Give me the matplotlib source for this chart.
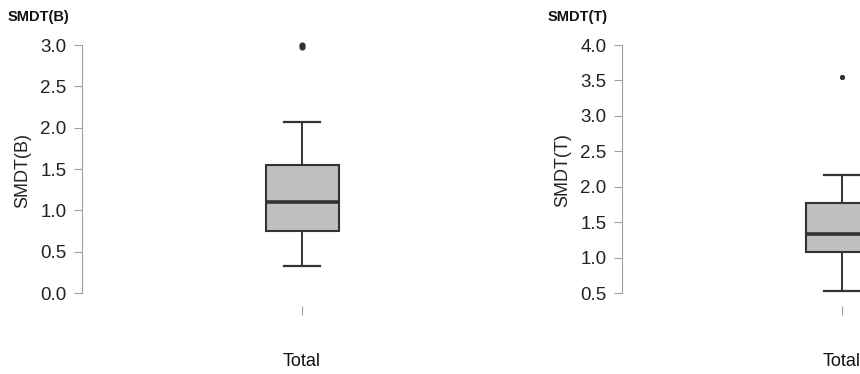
import matplotlib
matplotlib.use("Agg")
import matplotlib.pyplot as plt

plt.rcParams['font.family'] = ['Liberation Sans', 'DejaVu Sans']

# data
panels = ['SMDT(B)', 'SMDT(T)']
group = ['Total']
whislo = [0.33, 0.53]
q1 = [0.75, 1.08]
med = [1.10, 1.33]
q3 = [1.55, 1.77]
whishi = [2.07, 2.17]
outliers = [[2.98, 3.0], [3.55]]
yticks = [[0.0, 0.5, 1.0, 1.5, 2.0, 2.5, 3.0],
          [0.5, 1.0, 1.5, 2.0, 2.5, 3.0, 3.5, 4.0]]

W, H = 860, 374
fig = plt.figure(figsize=(W / 100, H / 100), dpi=100)

# pixel layout (from top-left)
ax_left = [82, 622]
ax_w = 440
ax_top, ax_bot = 35, 306
tick_top, tick_bot = 45, 293   # pixel rows of first / last y tick

for i, name in enumerate(panels):
    ax = fig.add_axes([ax_left[i] / W, 1 - ax_bot / H, ax_w / W, (ax_bot - ax_top) / H])
    lo, hi = yticks[i][0], yticks[i][-1]
    ppu = (tick_bot - tick_top) / (hi - lo)
    ax.set_ylim(lo - (ax_bot - tick_bot) / ppu, hi + (tick_top - ax_top) / ppu)
    ax.set_xlim(0, 2)

    stats = [dict(whislo=whislo[i], q1=q1[i], med=med[i], q3=q3[i],
                  whishi=whishi[i], fliers=outliers[i], label=group[0])]
    ax.bxp(stats, positions=[1], widths=73 / ax_w * 2, patch_artist=True,
           boxprops=dict(facecolor='#bfbfbf', edgecolor='#333333', linewidth=1.5),
           medianprops=dict(color='#333333', linewidth=2.6),
           whiskerprops=dict(color='#333333', linewidth=1.4),
           capprops=dict(color='#333333', linewidth=1.6),
           capwidths=36 / ax_w * 2,
           flierprops=dict(marker='o', markerfacecolor='#333333', markeredgecolor='#333333',
                           markersize=3.4 if i == 0 else 2.8))

    for s in ['top', 'right', 'bottom']:
        ax.spines[s].set_visible(False)
    ax.spines['left'].set_bounds(lo, hi)
    ax.spines['left'].set_color('#a0a0a0')
    ax.spines['left'].set_linewidth(0.8)

    ax.set_yticks(yticks[i])
    ax.set_yticklabels([f'{v:.1f}' for v in yticks[i]])
    ax.tick_params(axis='y', direction='out', length=6, width=0.8, color='#a0a0a0',
                   pad=5, labelsize=13.5, labelcolor='#222222')
    ax.set_xticks([1])
    ax.set_xticklabels(group)
    ax.tick_params(axis='x', direction='out', length=6.5, width=0.8, color='#a0a0a0',
                   pad=27, labelsize=13, labelcolor='#111111')

    ax.set_ylabel(name, fontsize=13, color='#222222', labelpad=7)

    fig.text((ax_left[i] - 74) / W, 1 - 17 / H, name, fontsize=10.5, fontweight='bold',
             va='center', ha='left', color='#111111')

fig.savefig('out.png', dpi=100)
